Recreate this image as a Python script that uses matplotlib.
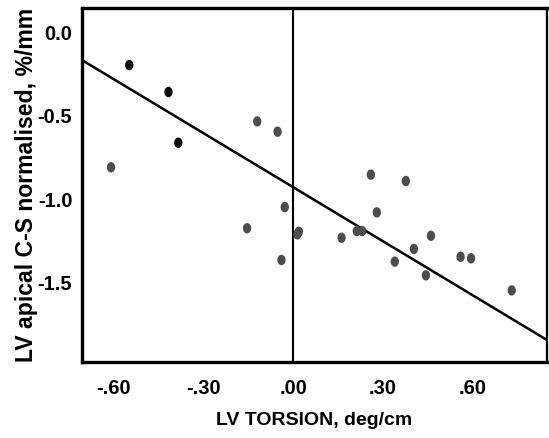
import numpy as np
import matplotlib
matplotlib.use("Agg")
import matplotlib.pyplot as plt
from matplotlib.path import Path

# Data
black_x = [-0.548, -0.417, -0.384]
black_y = [-0.198, -0.359, -0.663]

gray_x = [-0.609, -0.120, -0.052, -0.154, -0.039, -0.028, 0.019, 0.014, 0.162,
          0.213, 0.231, 0.260, 0.280, 0.340, 0.377, 0.404, 0.461, 0.444, 0.560,
          0.595, 0.731]
gray_y = [-0.810, -0.535, -0.597, -1.175, -1.365, -1.048, -1.196, -1.211, -1.232,
          -1.192, -1.192, -0.854, -1.080, -1.375, -0.892, -1.299, -1.220, -1.457,
          -1.346, -1.355, -1.547]

fit_slope = -1.078
fit_intercept = -0.929

xticks = [-0.60, -0.30, 0.00, 0.30, 0.60]
xticklabels = ["-.60", "-.30", ".00", ".30", ".60"]
yticks = [0.0, -0.5, -1.0, -1.5]
yticklabels = ["0.0", "-0.5", "-1.0", "-1.5"]

xlim = (-0.706, 0.849)
ylim = (-1.976, 0.144)

plt.rcParams['font.family'] = ['Liberation Sans', 'DejaVu Sans']

fig = plt.figure(figsize=(5.49, 4.38), dpi=100)
ax = fig.add_axes([82/549, 1-362/438, (547-82)/549, (362-8)/438])

# elliptical marker (slightly taller than wide)
t = np.linspace(0, 2*np.pi, 40)
ell = Path(np.column_stack([0.8*np.cos(t), np.sin(t)]), closed=True)

ax.axvline(0, color='black', lw=1.5, zorder=1)
xs = np.array(xlim)
ax.plot(xs, fit_intercept + fit_slope*xs, color='black', lw=1.8, zorder=2)

ax.scatter(gray_x, gray_y, s=56, marker=ell, color='#4d4d4d', edgecolors='none', zorder=3)
ax.scatter(black_x, black_y, s=56, marker=ell, color='#0a0a0a', edgecolors='none', zorder=3)

ax.set_xlim(*xlim)
ax.set_ylim(*ylim)
ax.set_xticks(xticks)
ax.set_xticklabels(xticklabels)
ax.set_yticks(yticks)
ax.set_yticklabels(yticklabels)
ax.tick_params(axis='both', length=0, labelsize=14.5)
ax.tick_params(axis='x', pad=12)
ax.tick_params(axis='y', pad=7)
for lab in ax.get_xticklabels() + ax.get_yticklabels():
    lab.set_fontweight('bold')

for side in ['left', 'bottom', 'top']:
    ax.spines[side].set_linewidth(2.4)
ax.spines['right'].set_linewidth(1.6)

ax.set_xlabel("LV TORSION, deg/cm", fontsize=14, fontweight='bold', labelpad=10)
ax.set_ylabel("LV apical C-S normalised, %/mm", fontsize=16.6, fontweight='bold', labelpad=0)

fig.savefig("out.png", dpi=100)
